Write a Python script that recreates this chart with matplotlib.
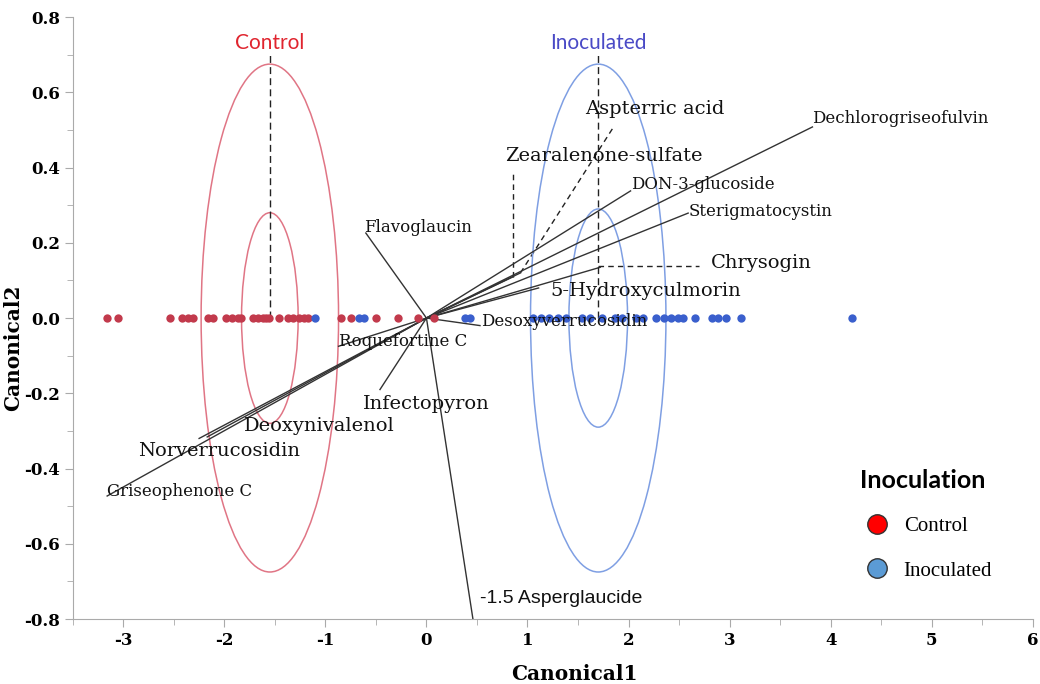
import matplotlib
matplotlib.use("Agg")
import matplotlib.pyplot as plt
import numpy as np
from matplotlib.patches import Ellipse
from matplotlib.lines import Line2D
from matplotlib.ticker import MultipleLocator

plt.rcParams["axes.unicode_minus"] = False

# canonical scores (all on Canonical2 = 0)
control_x = [-3.16, -3.05, -2.54, -2.42, -2.36, -2.31, -2.16, -2.11, -1.98, -1.92,
             -1.87, -1.84, -1.72, -1.67, -1.62, -1.59, -1.56, -1.46, -1.37, -1.32,
             -1.26, -1.21, -1.17, -0.85, -0.75, -0.50, -0.28, -0.08, 0.07]
inoc_x = [-1.10, -0.67, -0.62, 0.38, 0.43, 1.05, 1.13, 1.21, 1.30, 1.38, 1.54, 1.62,
          1.74, 1.87, 1.94, 2.07, 2.14, 2.27, 2.35, 2.42, 2.49, 2.54, 2.66, 2.83,
          2.89, 2.96, 3.11, 4.21]

# group means and ellipse half-sizes (outer, inner)
group_names = ["Control", "Inoculated"]
group_mean = [-1.55, 1.70]
outer_half = [(0.68, 0.675), (0.67, 0.675)]
inner_half = [(0.28, 0.28), (0.29, 0.29)]

# biplot rays: endpoints
ray_names = ["Flavoglaucin", "Dechlorogriseofulvin", "DON-3-glucoside", "Sterigmatocystin",
             "Chrysogin", "5-Hydroxyculmorin", "Zearalenone-sulfate", "Aspterric acid",
             "Desoxyverrucosidin", "Roquefortine C", "Infectopyron", "Deoxynivalenol",
             "Norverrucosidin", "Griseophenone C", "-1.5 Asperglaucide"]
ray_x = [-0.60, 3.82, 2.02, 2.59, 1.72, 1.11, 0.86, 0.93, 0.53, -0.87, -0.46, -2.17,
         -2.25, -3.16, 0.46]
ray_y = [0.226, 0.508, 0.338, 0.279, 0.135, 0.08, 0.11, 0.12, -0.02, -0.075, -0.19,
         -0.316, -0.32, -0.473, -0.80]

# label placement (left edge, vertical centre) and size
lab_pos = [(-0.62, 0.242), (3.82, 0.53), (2.02, 0.356), (2.59, 0.282), (2.81, 0.146),
           (1.23, 0.072), (0.78, 0.43), (1.57, 0.556), (0.54, -0.008), (-0.87, -0.061),
           (-0.63, -0.229), (-1.81, -0.287), (-2.85, -0.354), (-3.16, -0.46), (0.53, -0.745)]
lab_size = [12, 12, 12, 12, 14, 14, 14, 14, 12, 12, 14, 14, 14, 12, 14]

serif = "DejaVu Serif"
red_pt = "#c23a4c"
blue_pt = "#3a5fcd"

fig = plt.figure(figsize=(10.4, 6.84), dpi=100)
ax = fig.add_axes([0.070, 0.095, 0.923, 0.880])

# rays
for i in range(len(ray_names)):
    ax.plot([0, ray_x[i]], [0, ray_y[i]], color="#333333", lw=1.0, zorder=3)
    fam = "Liberation Sans" if ray_names[i].startswith("-1.5") else serif
    ax.text(lab_pos[i][0], lab_pos[i][1], ray_names[i], ha="left", va="center",
            fontsize=lab_size[i], family=fam, color="#111111", zorder=5)

# dashed leader lines
ax.plot([0.86, 0.86], [0.11, 0.39], ls=(0, (4, 3)), color="#222222", lw=1.0)
ax.plot([0.93, 1.84], [0.12, 0.503], ls=(0, (4, 3)), color="#222222", lw=1.0)
ax.plot([1.70, 2.70], [0.138, 0.138], ls=(0, (4, 3)), color="#222222", lw=1.0)

# ellipses
ell_cols = ["#e07585", "#7f9fe3"]
lab_cols = ["#e0252f", "#4a4ac6"]
for g in range(2):
    for hw, hh in (outer_half[g], inner_half[g]):
        ax.add_patch(Ellipse((group_mean[g], 0), 2 * hw, 2 * hh, fill=False,
                             edgecolor=ell_cols[g], lw=1.1, zorder=2))
    ax.plot([group_mean[g], group_mean[g]], [0, 0.705], ls=(0, (5, 3)), color="#222222",
            lw=1.0, zorder=3)
    ax.text(group_mean[g], 0.73, group_names[g], ha="center", va="center",
            fontsize=15, family="Lato", color=lab_cols[g])

# points
ax.scatter(control_x, np.zeros(len(control_x)), s=36, color=red_pt, zorder=4, lw=0)
ax.scatter(inoc_x, np.zeros(len(inoc_x)), s=36, color=blue_pt, zorder=4, lw=0)

# legend
handles = [Line2D([], [], ls="", marker="o", ms=14, mfc="#ff0000", mec="#333333", mew=1),
           Line2D([], [], ls="", marker="o", ms=14, mfc="#5b9bd5", mec="#333333", mew=1)]
leg = ax.legend(handles, group_names, title="Inoculation", loc="upper left",
                bbox_to_anchor=(0.82, 0.25), frameon=False, handletextpad=0.5,
                handlelength=1.6, borderpad=0, borderaxespad=0, labelspacing=1.2,
                alignment="left", prop={"family": "Liberation Serif", "size": 15})
leg.get_title().set_fontproperties({"family": "Lato", "weight": "bold", "size": 18})

ax.set_xlim(-3.5, 6)
ax.set_ylim(-0.8, 0.8)
ax.xaxis.set_major_locator(MultipleLocator(1))
ax.xaxis.set_minor_locator(MultipleLocator(0.5))
ax.yaxis.set_major_locator(MultipleLocator(0.2))
ax.yaxis.set_minor_locator(MultipleLocator(0.1))
ax.set_xticks(range(-3, 7))
ax.set_yticks([-0.8, -0.6, -0.4, -0.2, 0.0, 0.2, 0.4, 0.6, 0.8])
ax.set_yticklabels(["%.1f" % v for v in ax.get_yticks()])
for s in ["top", "right"]:
    ax.spines[s].set_visible(False)
for s in ["left", "bottom"]:
    ax.spines[s].set_color("#aaaaaa")
ax.tick_params(which="both", direction="out", color="#aaaaaa")
ax.tick_params(which="major", length=6, pad=3)
ax.tick_params(which="minor", length=4)
for lab in ax.get_xticklabels() + ax.get_yticklabels():
    lab.set_family(serif)
    lab.set_fontweight("bold")
    lab.set_fontsize(12)
ax.set_xlabel("Canonical1", family=serif, fontweight="bold", fontsize=14.5)
ax.set_ylabel("Canonical2", family=serif, fontweight="bold", fontsize=14.5)
ax.xaxis.set_label_coords(0.522, -0.075)
ax.yaxis.set_label_coords(-0.052, 0.45)

fig.savefig("out.png", dpi=100)
